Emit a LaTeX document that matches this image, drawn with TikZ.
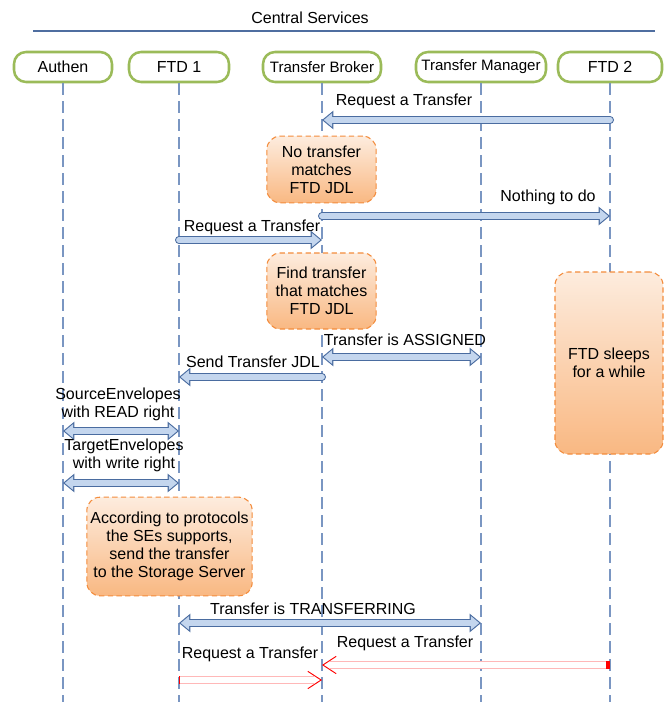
\documentclass[tikz,border=0pt]{standalone}
\usepackage{fontspec}
\setmainfont{Liberation Sans}
\usetikzlibrary{arrows.meta, positioning, calc}
\definecolor{hdrgreen}{RGB}{155,187,89}
\definecolor{lifeblue}{RGB}{122,150,194}
\definecolor{arredge}{RGB}{74,108,160}
\definecolor{arrfill}{RGB}{196,214,238}
\definecolor{noteedge}{RGB}{243,140,60}
\definecolor{notetop}{RGB}{253,236,222}
\definecolor{notebot}{RGB}{249,184,130}
\definecolor{titleline}{RGB}{79,110,160}
\tikzset{
  bigtip/.tip={Triangle[length=8.5pt,width=14pt,line width=0pt]},
  smalltip/.tip={Triangle[length=6.3pt,width=10.4pt,line width=0pt]},
  redhead/.tip={Straight Barb[color=red, length=10pt, width=13pt, line width=0.7pt]},
  hdrbox/.style={draw=hdrgreen, line width=1.9pt, fill=white, rounded corners=9pt,
                 font=\fontsize{12}{13.5}\selectfont, minimum height=22.5pt, inner sep=1pt},
  lifeline/.style={draw=lifeblue, line width=1.1pt, dash pattern=on 9pt off 4.5pt},
  msgtext/.style={font=\fontsize{12}{13.5}\selectfont, align=center, inner sep=0pt},
  notebox/.style={draw=noteedge, line width=0.8pt, dash pattern=on 4pt off 2.5pt,
                  rounded corners=10pt, top color=notetop, bottom color=notebot,
                  align=center, font=\fontsize{12}{13.5}\selectfont, inner sep=2pt},
  blockarr/.style={-bigtip, line width=6pt, draw=arredge, line cap=round,
                   postaction={draw=arrfill, line width=4.4pt, -smalltip, shorten >=1.3pt}},
  blockdbl/.style={bigtip-bigtip, line width=6pt, draw=arredge,
                   postaction={draw=arrfill, line width=4.4pt, smalltip-smalltip,
                               shorten >=1.3pt, shorten <=1.3pt}},
  redarr/.style={draw=white, line width=0.5pt,
                 preaction={draw=red!28, double=white, double distance=5pt,
                            line width=0.5pt, -, shorten >=6pt}},
}

\begin{document}
\begin{tikzpicture}[x=0.75pt, y=-0.75pt]
  \useasboundingbox (0,0) rectangle (670,702);

  \node[msgtext] (title) at (310,18) {Central Services};
  \draw[titleline, line width=0.8pt] (33,31) -- (655,31);

  \node[hdrbox, minimum width=73.5pt] (hAuth) at (63,67) {Authen};
  \node[hdrbox, minimum width=75pt] (hFtdA) at (179,67) {FTD 1};
  \node[hdrbox, minimum width=88.5pt, font=\fontsize{11.3}{13}\selectfont] (hBroker) at (322,67) {Transfer Broker};
  \node[hdrbox, minimum width=97.5pt, font=\fontsize{11.3}{13}\selectfont] (hMgr) at (481,67) {Transfer Manager};
  \node[hdrbox, minimum width=78pt] (hFtdB) at (610,67) {FTD 2};

  \coordinate (bottom) at (0,702);
  \foreach \n in {hAuth, hFtdA, hBroker, hMgr, hFtdB} {
    \draw[lifeline] (\n.south) -- (\n |- bottom);
  }

  \foreach \r/\y in {r1/120, r2/216, r3/240, r4/357, r5/377, r6/431, r7/483, r8/623, r9/665, r10/680} {
    \coordinate (\r) at (0,\y);
  }

  % notes on the lifelines
  \node[notebox, minimum width=82pt, minimum height=50pt] (noMatch) at (321.5,169.5) {No transfer\\matches\\FTD JDL};
  \node[notebox, minimum width=82pt, minimum height=57pt] (findMatch) at (321.5,291) {Find transfer\\that matches\\FTD JDL};
  \node[notebox, minimum width=81pt, minimum height=136.5pt] (sleep) at (609,363) {FTD sleeps\\ for a while};
  \node[notebox, minimum width=124pt, minimum height=74pt] (protocols) at (169.5,546.5) {According to protocols\\the SEs supports,\\send the transfer\\to the Storage Server};

  % messages
  \node[msgtext] (l1) at (404,101) {Request a Transfer};
  \draw[blockarr] (hFtdB |- r1) -- (hBroker |- r1);
  \node[msgtext] (l2) at (548,197) {Nothing to do};
  \draw[blockarr] (hBroker |- r2) -- (hFtdB |- r2);
  \node[msgtext] (l3) at (252,227) {Request a Transfer};
  \draw[blockarr] (hFtdA |- r3) -- (hBroker |- r3);
  \node[msgtext] (l4) at (405,340) {Transfer is ASSIGNED};
  \draw[blockdbl] (hBroker |- r4) -- (hMgr |- r4);
  \node[msgtext] (l5) at (253,362) {Send Transfer JDL};
  \draw[blockarr] (hBroker |- r5) -- (hFtdA |- r5);
  \node[msgtext] (l6) at (118,404) {SourceEnvelopes\\with READ right};
  \draw[blockdbl] (hAuth |- r6) -- (hFtdA |- r6);
  \node[msgtext] (l7) at (124,455) {TargetEnvelopes\\with write right};
  \draw[blockdbl] (hAuth |- r7) -- (hFtdA |- r7);
  \node[msgtext] (l8) at (313,609) {Transfer is TRANSFERRING};
  \draw[blockdbl] (hFtdA |- r8) -- (hMgr |- r8);
  \node[msgtext] (l9) at (405,643) {Request a Transfer};
  \draw[redarr, {Bar[color=red, width=6pt, line width=3pt]}-redhead] (hFtdB |- r9) -- (hBroker |- r9);
  \node[msgtext] (l10) at (250,654) {Request a Transfer};
  \draw[redarr, {Bar[color=red, width=6pt, line width=1pt]}-redhead] (hFtdA |- r10) -- (hBroker |- r10);
\end{tikzpicture}
\end{document}
